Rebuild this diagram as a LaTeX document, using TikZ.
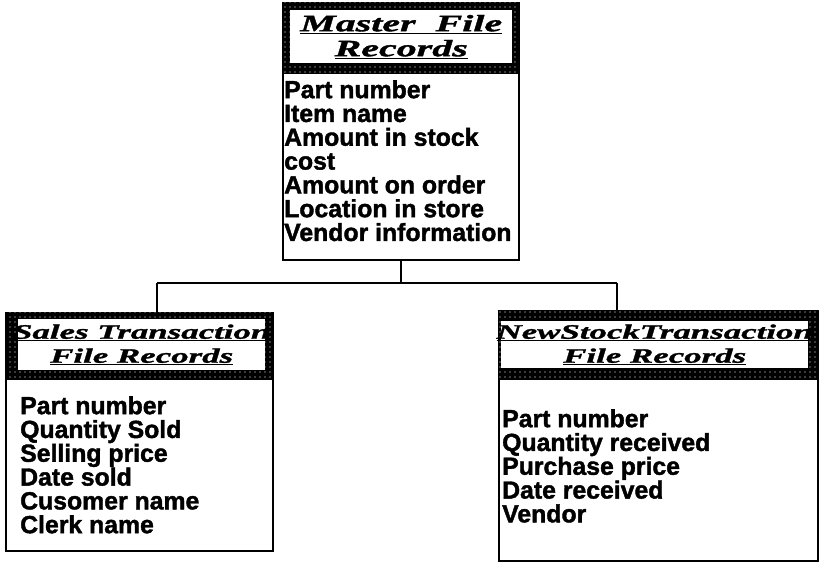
\documentclass[tikz,border=0pt]{standalone}
\usepackage{fontspec}
\setmainfont{Liberation Sans}
\newfontfamily\itemfont[BoldFont={Liberation Sans Bold}, BoldFeatures={FakeBold=1.6}]{Liberation Sans}
\newfontfamily\titlefont[FakeStretch=1.7, BoldItalicFeatures={FakeBold=1.5}]{Liberation Serif}
\usetikzlibrary{patterns.meta}
\tikzset{
  hdr/.style={draw=black, line width=1.5pt, fill=black, anchor=north west, inner sep=0pt,
    postaction={pattern={Dots[distance=5pt,radius=0.55pt]}, pattern color=white}},
  inner/.style={fill=white, anchor=north west, inner sep=0pt},
  bodybox/.style={draw=black, line width=2.2pt, fill=white, anchor=north west, inner sep=0pt},
  ttl/.style={font={\titlefont\bfseries\itshape\fontsize{20.5}{24}\selectfont}, align=center, inner sep=0pt},
  items/.style={font={\itemfont\bfseries\fontsize{24.8}{23.8}\selectfont}, align=left, anchor=north west, inner sep=0pt},
  conn/.style={draw=black, line width=1.6pt}
}
\begin{document}
\begin{tikzpicture}[x=1pt,y=-1pt]
\useasboundingbox (0,0) rectangle (820,567);
% master
\node[bodybox, minimum width=236pt, minimum height=187pt] (mb) at (282,72) {};
\node[hdr, minimum width=236pt, minimum height=70pt] (mh) at (282,2) {};
\node[inner, minimum width=222pt, minimum height=53pt] (mi) at (290,10) {};
\node[ttl, font={\titlefont\bfseries\itshape\fontsize{23.5}{25}\selectfont}] (mt) at (mi.center) {\underline{Master\ \ File}\\\underline{Records}};
\node[items] (ml) at (284,80) {Part number\\Item name\\Amount in stock\\cost\\Amount on order\\Location in store\\Vendor information};
% sales
\node[bodybox, minimum width=267pt, minimum height=172pt] (sb) at (5,378) {};
\node[hdr, minimum width=267pt, minimum height=66pt] (sh) at (5,312) {};
\node[inner, minimum width=247pt, minimum height=51pt] (si) at (18,319) {};
\node[ttl] (st) at (si.center) {\underline{Sales Transaction}\\\underline{File Records}};
\node[items] (sl) at (20,396) {Part number\\Quantity Sold\\Selling price\\Date sold\\Cusomer name\\Clerk name};
% new stock
\node[bodybox, minimum width=319pt, minimum height=182pt] (nb) at (498,378) {};
\node[hdr, minimum width=319pt, minimum height=68pt] (nh) at (498,310) {};
\node[inner, minimum width=307pt, minimum height=47pt] (ni) at (501,321) {};
\node[ttl] (nt) at (ni.center) {\underline{NewStockTransaction}\\\underline{File Records}};
\node[items] (nl) at (502,409) {Part number\\Quantity received\\Purchase price\\Date received\\Vendor};
% connectors
\coordinate (dl) at (157,283);
\coordinate (dr) at (617,283);
\draw[conn] (mb.south) -- (mb.south |- dl);
\draw[conn] (dl) -- (dr);
\draw[conn] (dl) -- (dl |- sh.north);
\draw[conn] (dr) -- (dr |- nh.north);
\end{tikzpicture}
\end{document}
